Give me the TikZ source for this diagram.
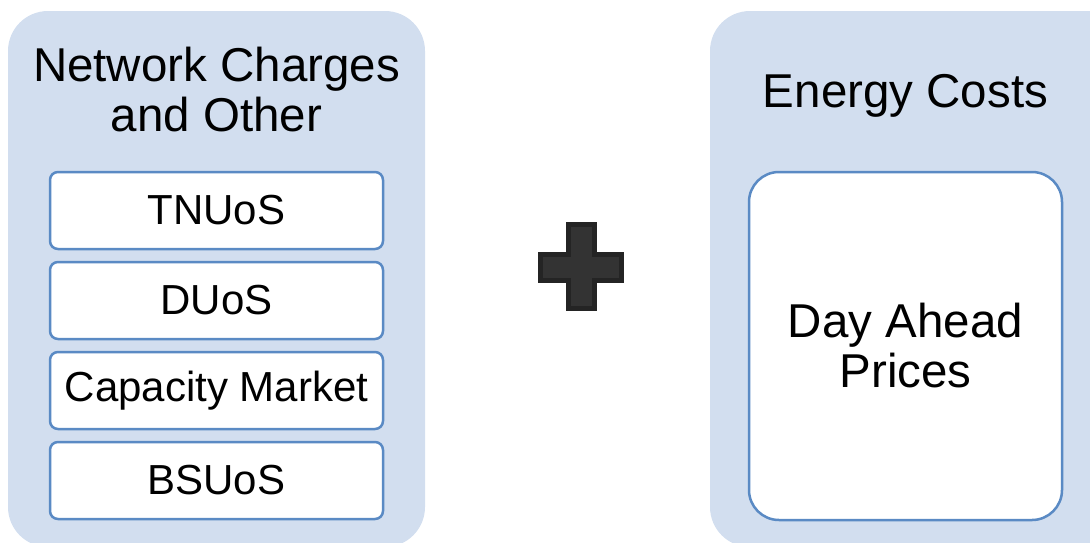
\documentclass[tikz,border=0pt]{standalone}
\usepackage{fontspec}
\setmainfont{Liberation Sans}
\usepackage{tikz}
\usetikzlibrary{positioning}
\definecolor{panelfill}{HTML}{D2DEEF}
\definecolor{itemdraw}{HTML}{5A8AC4}
\definecolor{plusfill}{HTML}{333333}
\definecolor{plusdraw}{HTML}{242424}

\begin{document}
\begin{tikzpicture}[x=1pt,y=-1pt,
    panel/.style={rounded corners=40pt,fill=panelfill,draw=none,minimum width=417pt,minimum height=536pt,inner sep=0pt},
    title/.style={align=center,font=\fontsize{47.5}{50}\selectfont,inner sep=0pt},
    item/.style={rounded corners=8pt,fill=white,draw=itemdraw,line width=2.5pt,minimum width=333pt,minimum height=77pt,inner sep=0pt,font=\fontsize{42}{46}\selectfont}]
      \useasboundingbox (0,0) rectangle (1090,542);
      \clip (0,0) rectangle (1090,542);
      % left panel
      \node[panel] (netpanel) at (216.5,279) {};
      \node[title] (nettitle) at (216.5,90) {Network Charges\\and Other};
      \node[item] (tnuos) at (216.5,210.5) {TNUoS};
      \node[item,below=10.5pt of tnuos] (duos) {DUoS};
      \node[item,below=10.5pt of duos] (capmkt) {Capacity Market};
      \node[item,below=10.5pt of capmkt] (bsuos) {BSUoS};
      % right panel
      \node[panel] (enpanel) at (918.5,279) {};
      \node[title,anchor=base] (entitle) at (905.5,107) {Energy Costs};
      \node[item,rounded corners=30pt,minimum width=313pt,minimum height=348pt,align=center,font=\fontsize{47.5}{50}\selectfont] (dayahead) at (905.5,346) {Day Ahead\\Prices};
      % plus sign
      \draw[fill=plusfill,draw=plusdraw,line width=5pt]
        (568.5,224.5) -- (594.5,224.5) -- (594.5,254.5) -- (621.5,254.5) -- (621.5,280.5)
        -- (594.5,280.5) -- (594.5,308.5) -- (568.5,308.5) -- (568.5,280.5) -- (540.5,280.5)
        -- (540.5,254.5) -- (568.5,254.5) -- cycle;
    \end{tikzpicture}
\end{document}
